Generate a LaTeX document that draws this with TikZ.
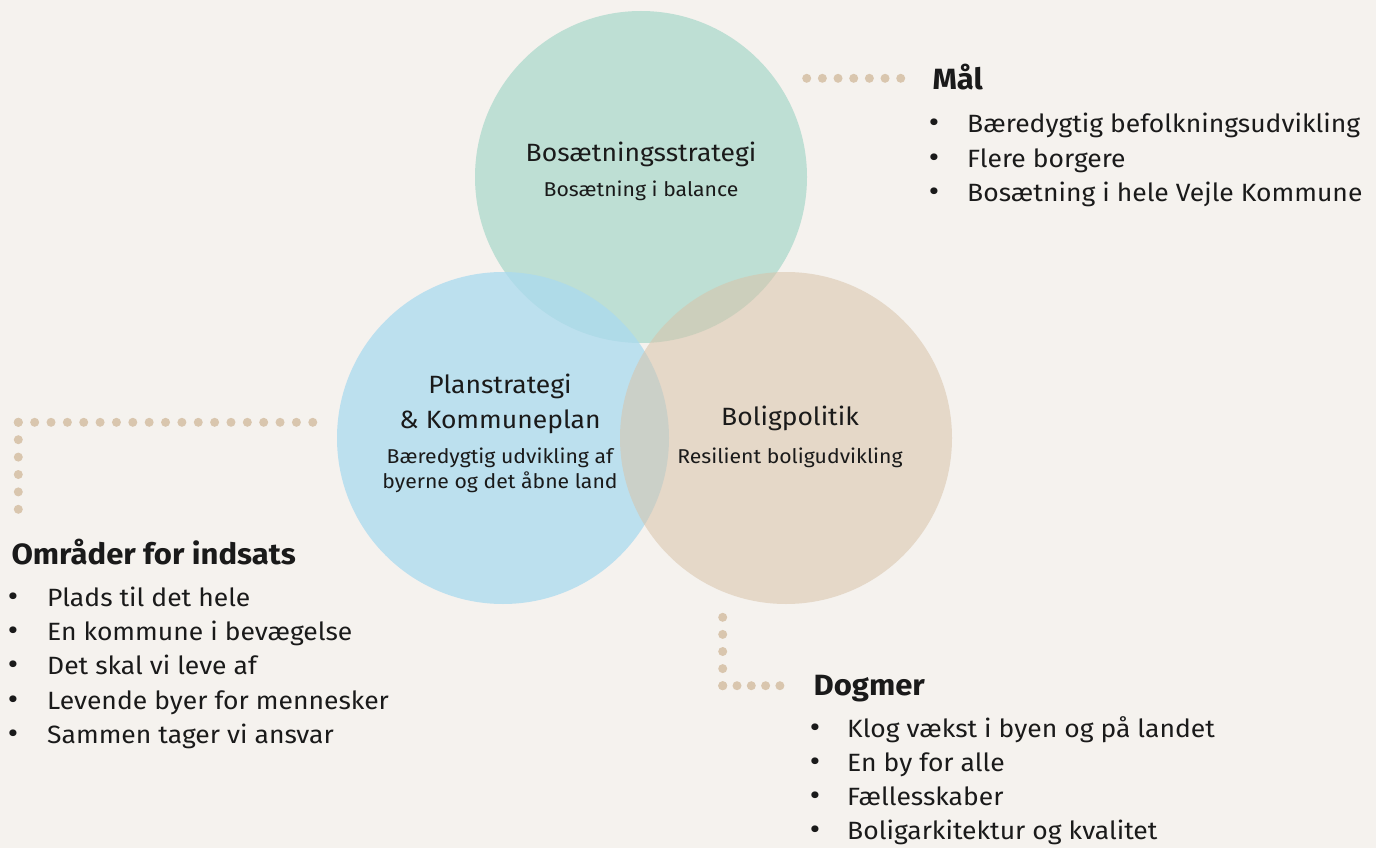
\documentclass[tikz,border=0pt]{standalone}
\usepackage{fontspec}
\setmainfont{Fira Sans}[FakeStretch=1.06]
\usepackage{tikz}
\usetikzlibrary{positioning}

\definecolor{bg}{HTML}{F5F2EE}
\definecolor{grn}{HTML}{BEDFD4}
\definecolor{blu}{HTML}{AADAEF}
\definecolor{bei}{HTML}{D8C3A9}
\definecolor{dotc}{HTML}{D9C6AE}
\definecolor{ink}{HTML}{1A1A1A}

\tikzset{
  ring/.style={circle, minimum size=332pt, inner sep=0pt, draw=none},
  title/.style={anchor=base, text=ink, font=\fontsize{25}{30}\selectfont},
  sub/.style={anchor=base, text=ink, font=\fontsize{20}{24}\selectfont},
  head/.style={anchor=base west, text=ink, font=\bfseries\fontsize{29.3}{35}\selectfont},
  item/.style={anchor=base west, text=ink, inner sep=0pt, font=\fontsize{25}{30}\selectfont},
  bul/.style={anchor=base, text=ink, inner sep=0pt, font=\fontsize{30}{30}\selectfont},
  dotline/.style={draw=dotc, line width=9pt, line cap=round, dash pattern=on 0pt off #1}
}

\begin{document}
\begin{tikzpicture}[x=1pt, y=-1pt]
\useasboundingbox (0,0) rectangle (1376,848);
\fill[bg] (0,0) rectangle (1376,848);

% the three circles
\node[ring, fill=grn] (bosaet) at (641,177) {};
\node[ring, fill=blu, fill opacity=0.75] (plan) at (503,438) {};
\node[ring, fill=bei, fill opacity=0.55] (bolig) at (786,438) {};

% texts in the circles
\node[title] (bosaet1) at (641,161.7) {Bosætningsstrategi};
\node[sub] (bosaet2) at (641,196) {Bosætning i balance};
\node[title] (plan1) at (500,393) {Planstrategi};
\node[title] (plan2) at (500,428) {\& Kommuneplan};
\node[sub] (plan3) at (500,463) {Bæredygtig udvikling af};
\node[sub] (plan4) at (500,488) {byerne og det åbne land};
\node[title] (bolig1) at (790,425) {Boligpolitik};
\node[sub] (bolig2) at (790,463) {Resilient boligudvikling};

% dotted leaders
\coordinate (maalA) at (806.7,78.3);
\coordinate (maalB) at (901.7,78.3);
\coordinate (omrA) at (313,422.3);
\coordinate (omrC) at (18.3,422.3);
\coordinate (omrB) at (18.3,510);
\coordinate (dogA) at (722.7,617.3);
\coordinate (dogC) at (722.7,685.7);
\coordinate (dogB) at (781,685.7);
\draw[dotline=15.67pt] (maalA) -- (maalB);
\draw[dotline=16.36pt] (omrC) -- (omrA);
\draw[dotline=17.4pt] (omrC) -- (omrB);
\draw[dotline=17.1pt] (dogA) -- (dogC);
\draw[dotline=14.3pt] (dogC) -- (dogB);

% Mål
\node[head] (maal) at (929,89.3) {Mål};
\foreach \txt [count=\i] in {Bæredygtig befolkningsudvikling, Flere borgere, Bosætning i hele Vejle Kommune} {
  \node[bul] (maalb\i) at (934,{133+34.3*(\i-1)}) {•};
  \node[item] (maal\i) at (967,{133+34.3*(\i-1)}) {\txt};
}

% Områder for indsats
\node[head] (omr) at (8,564) {Områder for indsats};
\foreach \txt [count=\i] in {Plads til det hele, En kommune i bevægelse, Det skal vi leve af, Levende byer for mennesker, Sammen tager vi ansvar} {
  \node[bul] (omrb\i) at (13,{606+34.4*(\i-1)}) {•};
  \node[item] (omr\i) at (47,{606+34.4*(\i-1)}) {\txt};
}

% Dogmer
\node[head] (dog) at (810,695) {Dogmer};
\foreach \txt [count=\i] in {Klog vækst i byen og på landet, En by for alle, Fællesskaber, Boligarkitektur og kvalitet} {
  \node[bul] (dogb\i) at (815,{737+34.3*(\i-1)}) {•};
  \node[item] (dog\i) at (847,{737+34.3*(\i-1)}) {\txt};
}
\end{tikzpicture}
\end{document}
